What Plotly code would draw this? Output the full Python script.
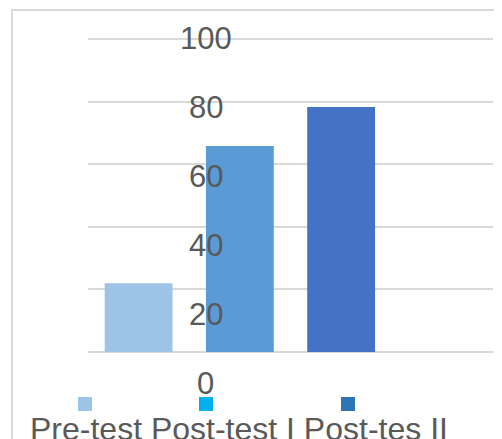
import plotly.graph_objects as go

# ---- data ----
categories = ["Pre-test", "Post-test I", "Post-tes II"]
values = [22.0, 65.8, 78.3]
bar_colors = ["#9DC3E6", "#5B9BD5", "#4472C4"]
legend_colors = ["#9DC3E6", "#00B0F0", "#2E75B6"]
tick_values = [0, 20, 40, 60, 80, 100]
tick_labels = ["0", "20", "40", "60", "80", "100"]

# ---- layout geometry (window pixels; page body has an 8px offset) ----
W, H = 502, 439
OFF = 8
PL, PR, PT, PB = 88, 493, 30, 400          # plot area in window pixels
L, R, T, B = PL - OFF, W - (PR - OFF), PT - OFF, H - (PB - OFF)
PW, PH = PR - PL, PB - PT

# main value axis: 0 at 352px, 100 at 39px
y0_px, y100_px = 352.0, 39.0
s1 = (y0_px - y100_px) / 100.0
y_range = [-(PB - y0_px) / s1, 100 + (y100_px - PT) / s1]
# label axis: 0 at 383px, 100 at 38.5px
l0_px, l100_px = 383.0, 38.5
s2 = (l0_px - l100_px) / 100.0
y2_range = [-(PB - l0_px) / s2, 100 + (l100_px - PT) / s2]


def px_x(p):
    return (p - PL) / PW


def px_y(p):
    return (PB - p) / PH


fig = go.Figure()
fig.add_trace(go.Bar(
    x=list(range(len(categories))), y=values,
    marker=dict(color=bar_colors, line=dict(width=0)),
    width=0.67, hoverinfo="skip", showlegend=False,
))
fig.add_trace(go.Scatter(x=[0], y=[50], yaxis="y2", mode="markers",
                         marker=dict(opacity=0), hoverinfo="skip", showlegend=False))

annotations = []
for v, t in zip(tick_values, tick_labels):
    annotations.append(dict(
        x=px_x(205.5), xref="paper", y=v, yref="y2", text=t, showarrow=False,
        xanchor="center", yanchor="middle",
        font=dict(family="Liberation Sans, Arial", size=31, color="#595959"),
    ))

annotations.append(dict(
    x=px_x(28), xref="paper", y=px_y(409), yref="paper",
    text=" ".join(categories), showarrow=False, xanchor="left", yanchor="top",
    font=dict(family="Liberation Sans, Arial", size=32, color="#595959"),
))

shapes = [dict(type="rect", xref="paper", yref="paper",
               x0=px_x(12), x1=px_x(540), y0=px_y(480), y1=px_y(10),
               line=dict(color="#D9D9D9", width=2), fillcolor="rgba(0,0,0,0)",
               layer="below")]
swatch_left = [78, 199, 341]
for c, xl in zip(legend_colors, swatch_left):
    shapes.append(dict(type="rect", xref="paper", yref="paper",
                       x0=px_x(xl), x1=px_x(xl + 14), y0=px_y(411), y1=px_y(397),
                       line=dict(width=0), fillcolor=c))

fig.update_layout(
    width=W, height=H,
    margin=dict(l=L, r=R, t=T, b=B, pad=0),
    paper_bgcolor="white", plot_bgcolor="white",
    xaxis=dict(range=[-0.5, 3.5], showgrid=False, zeroline=False,
               showticklabels=False, ticks="", showline=False, fixedrange=True),
    yaxis=dict(range=y_range, tickvals=tick_values, showticklabels=False,
               gridcolor="#D9D9D9", gridwidth=2, zeroline=False,
               showline=False, ticks="", fixedrange=True),
    yaxis2=dict(range=y2_range, overlaying="y", side="right",
                showgrid=False, zeroline=False, showticklabels=False,
                ticks="", showline=False, fixedrange=True),
    annotations=annotations, shapes=shapes,
    showlegend=False,
)

fig.write_html("out.html")
